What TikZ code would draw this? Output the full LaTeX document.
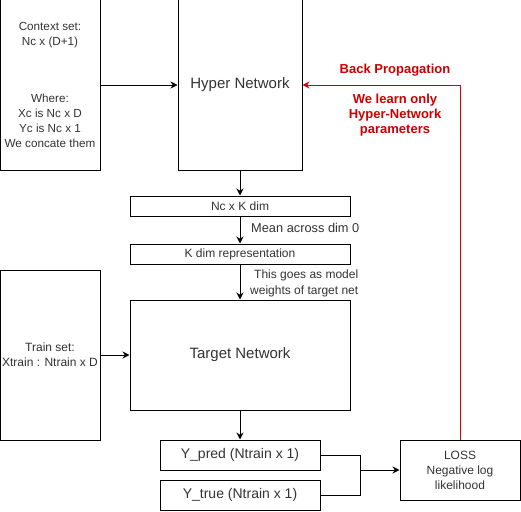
\documentclass[tikz,border=0pt]{standalone}
\usepackage{fontspec}
\setmainfont{Liberation Sans}
\usetikzlibrary{arrows.meta}
\definecolor{bpred}{HTML}{CC0000}
\begin{document}
\begin{tikzpicture}[x=1pt,y=-1pt,
  box/.style={draw,line width=1pt,inner sep=0pt,align=center,font=\fontsize{12}{15}\selectfont,text=black!80},
  conn/.style={line width=1pt,-{Stealth[length=7pt,width=7pt]}},
  lbl/.style={font=\fontsize{12}{16}\selectfont,text=black!80,align=left,inner sep=0pt},
  redtxt/.style={font=\bfseries\fontsize{13}{15}\selectfont,text=bpred,align=center,inner sep=0pt}]
\useasboundingbox (0,0) rectangle (521,511);
\node[box,minimum width=100pt,minimum height=170pt,font=\fontsize{11.7}{15}\selectfont] (ctx) at (50,85) {Context set:\\Nc x (D+1)\\[42pt]Where:\\Xc is Nc x D\\Yc is Nc x 1\\We concate them};
\node[box,minimum width=124pt,minimum height=170pt,font=\fontsize{15}{17}\selectfont] (hyper) at (240,85) {Hyper Network};
\node[box,minimum width=220pt,minimum height=20pt] (nck) at (240,206) {Nc x K dim};
\node[box,minimum width=220pt,minimum height=20pt] (kdim) at (240,254) {K dim representation};
\node[box,minimum width=220pt,minimum height=110pt,font=\fontsize{15}{17}\selectfont] (target) at (240,355) {Target Network};
\node[box,minimum width=100pt,minimum height=170pt] (train) at (50,355) {Train set:\\Xtrain : Ntrain x D};
\node[box,minimum width=160pt,minimum height=30pt,font=\fontsize{14}{16}\selectfont] (ypred) at (240,455) {Y\_pred (Ntrain x 1)};
\node[box,minimum width=160pt,minimum height=30pt,font=\fontsize{14}{16}\selectfont] (ytrue) at (240,495) {Y\_true (Ntrain x 1)};
\node[box,minimum width=120pt,minimum height=60pt] (loss) at (460,470) {LOSS\\Negative log\\likelihood};
\coordinate (merge) at (360,470);
\draw[conn] (ctx.east) -- (hyper.west);
\draw[conn] (hyper.south) -- (nck.north);
\draw[conn] (nck.south) -- (kdim.north);
\draw[conn] (kdim.south) -- (target.north);
\draw[conn] (train.east) -- (target.west);
\draw[conn] (target.south) -- (ypred.north);
\draw[line width=1pt] (ypred.east) -| (merge);
\draw[line width=1pt] (ytrue.east) -| (merge);
\draw[conn] (merge) -- (loss.west);
\draw[conn,draw=bpred,color=bpred] (loss.north) |- (hyper.east);
\node[lbl,anchor=west,font=\fontsize{12.8}{16}\selectfont] (lmean) at (251,228) {Mean across dim 0};
\node[lbl,anchor=west] (lgoes) at (250,283) {\hspace*{4pt}This goes as model\\weights of target net};
\node[redtxt] (bp) at (395,70) {Back Propagation};
\node[redtxt] (learn) at (395,115) {We learn only\\Hyper-Network\\parameters};
\end{tikzpicture}
\end{document}
